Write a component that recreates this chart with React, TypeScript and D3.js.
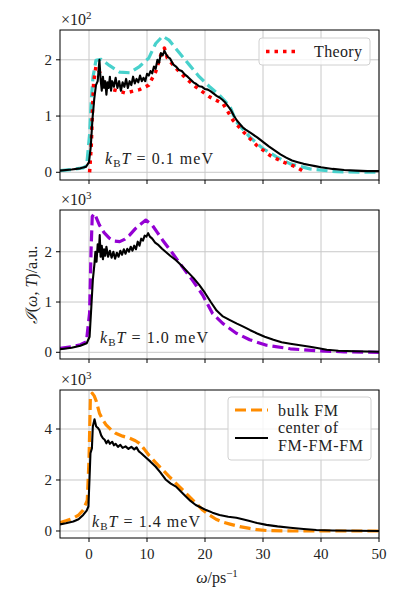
import * as d3 from 'd3'

type Pt = [number, number]

// omega (ps^-1) vs intensity
const xTicks = [0, 10, 20, 30, 40, 50]

// top panel, x10^2
const centerA: Pt[] = [[-5,0.03],[-3,0.05],[-1.5,0.07],[-0.5,0.1],[0,0.18],[0.3,0.45],[0.6,0.95],[0.9,1.3],[1.2,1.55],[1.5,1.62],[1.8,2.0],[2.0,1.65],[2.2,1.45],[2.4,1.7],[2.6,1.5],[2.8,1.62],[3.0,1.38],[3.2,1.6],[3.4,1.5],[3.6,1.7],[3.8,1.45],[4.0,1.62],[4.3,1.52],[4.6,1.68],[4.9,1.5],[5.2,1.62],[5.5,1.45],[5.8,1.6],[6.1,1.52],[6.4,1.66],[6.7,1.5],[7.0,1.62],[7.3,1.55],[7.6,1.7],[7.9,1.58],[8.2,1.66],[8.5,1.6],[8.8,1.72],[9.1,1.62],[9.4,1.68],[9.7,1.62],[10.0,1.75],[10.3,1.72],[10.6,1.8],[10.9,1.76],[11.2,1.88],[11.5,1.84],[11.8,2.0],[12.1,1.95],[12.4,2.12],[12.7,2.08],[13.0,2.16],[13.3,2.1],[13.6,2.05],[14.0,2.02],[14.5,1.92],[15.0,1.88],[15.5,1.82],[16.0,1.8],[16.5,1.74],[17.0,1.7],[17.5,1.65],[18.0,1.6],[18.5,1.57],[19.0,1.53],[19.5,1.52],[20.0,1.48],[20.5,1.47],[21.0,1.44],[21.5,1.4],[22.0,1.36],[22.5,1.33],[23.0,1.29],[23.5,1.24],[24.0,1.17],[24.5,1.1],[25.0,1.0],[25.5,0.92],[26.0,0.86],[26.5,0.8],[27.0,0.76],[28.0,0.69],[29.0,0.62],[30.0,0.54],[31.0,0.46],[32.0,0.39],[33.0,0.32],[34.0,0.26],[35.0,0.21],[36.0,0.18],[37.0,0.15],[38.0,0.13],[39.0,0.11],[40.0,0.09],[42.0,0.06],[44.0,0.04],[46.0,0.03],[48.0,0.02],[50.0,0.02]]
const bulkA: Pt[] = [[-5,0.03],[-3,0.05],[-1,0.08],[-0.4,0.12],[0.1,0.67],[0.4,1.3],[0.7,1.7],[1.2,1.99],[2.1,2.01],[3.5,1.9],[5.3,1.78],[7.0,1.77],[8.7,1.88],[10.3,2.03],[11.5,2.29],[12.7,2.42],[13.8,2.35],[15.6,2.12],[17.3,1.91],[19.0,1.7],[20.8,1.52],[22.5,1.37],[24.3,1.17],[25.4,0.9],[27.7,0.63],[30.0,0.42],[32.4,0.27],[34.7,0.15],[38.1,0.06],[42.7,0.01],[50,0.0]]
const theoryA: Pt[] = [[0.1,0.0],[0.4,0.5],[0.6,1.1],[0.8,1.6],[1.2,1.88],[1.8,1.79],[2.4,1.61],[4.1,1.47],[6.3,1.41],[8.7,1.47],[10.3,1.55],[11.5,1.79],[12.4,2.09],[13.0,2.21],[13.5,2.03],[15.0,1.85],[16.7,1.67],[18.4,1.52],[20.8,1.34],[23.1,1.22],[24.8,0.93],[26.6,0.72],[28.9,0.48],[31.2,0.3],[33.5,0.18],[35.8,0.09],[37.3,0.0]]

// middle panel, x10^3
const centerB: Pt[] = [[-5,0.06],[-3,0.09],[-1.5,0.13],[-0.4,0.18],[0.1,0.31],[0.4,0.9],[0.66,1.44],[0.95,1.77],[1.1,2.0],[1.3,1.8],[1.5,2.15],[1.7,2.0],[1.85,2.33],[2.0,1.9],[2.2,2.12],[2.4,1.85],[2.6,2.05],[2.8,1.92],[3.0,2.1],[3.3,1.9],[3.6,2.02],[3.9,1.88],[4.2,2.0],[4.5,1.86],[4.8,1.98],[5.1,1.9],[5.4,2.02],[5.7,1.94],[6.0,2.05],[6.3,1.96],[6.6,2.06],[6.9,2.0],[7.2,2.1],[7.5,2.02],[7.8,2.12],[8.1,2.05],[8.4,2.2],[8.7,2.12],[9.0,2.26],[9.3,2.22],[9.6,2.32],[9.9,2.3],[10.2,2.37],[10.5,2.3],[10.9,2.26],[11.4,2.18],[12.0,2.13],[12.6,2.06],[13.2,2.0],[14.0,1.92],[15.0,1.83],[16.0,1.72],[17.0,1.6],[18.0,1.48],[19.0,1.34],[20.0,1.18],[21.0,1.0],[22.0,0.83],[23.0,0.72],[24.3,0.64],[25.5,0.57],[26.6,0.51],[27.8,0.44],[28.9,0.38],[30.3,0.31],[31.8,0.25],[33.2,0.2],[34.7,0.17],[36.4,0.14],[38.1,0.11],[39.6,0.08],[41.0,0.05],[43,0.03],[46,0.02],[50,0.01]]
const bulkB: Pt[] = [[-5,0.08],[-3,0.11],[-1.5,0.15],[-0.45,0.21],[0.1,0.78],[0.35,2.0],[0.56,2.7],[0.95,2.76],[1.8,2.53],[2.6,2.38],[3.5,2.27],[4.4,2.21],[5.3,2.2],[6.2,2.25],[7.0,2.33],[8.0,2.46],[8.7,2.53],[9.8,2.63],[10.9,2.53],[11.8,2.38],[12.7,2.23],[14.4,1.97],[16.1,1.7],[17.8,1.44],[19.6,1.14],[21.3,0.77],[23.1,0.57],[25.4,0.38],[27.7,0.25],[30.6,0.14],[34.7,0.07],[39.2,0.03],[44,0.01],[50,0.0]]

// bottom panel, x10^3
const centerC: Pt[] = [[-5,0.26],[-4,0.3],[-2.7,0.37],[-1.8,0.46],[-1.0,0.63],[-0.4,0.8],[-0.1,0.96],[0.1,2.13],[0.25,3.05],[0.5,3.24],[0.66,4.1],[0.95,4.38],[1.24,4.1],[1.5,4.05],[1.8,3.96],[2.1,3.75],[2.4,3.64],[2.7,3.58],[3.0,3.44],[3.3,3.55],[3.6,3.42],[4.0,3.5],[4.3,3.36],[4.6,3.42],[5.0,3.3],[5.4,3.38],[5.8,3.26],[6.3,3.32],[6.8,3.22],[7.3,3.3],[7.8,3.2],[8.2,3.28],[8.6,3.12],[9.0,3.05],[9.8,2.88],[10.6,2.72],[11.5,2.52],[12.3,2.3],[13.2,2.02],[14.1,1.86],[15.0,1.74],[15.8,1.56],[16.7,1.35],[17.5,1.18],[18.4,1.02],[19.3,0.92],[20.2,0.82],[21.3,0.72],[22.5,0.63],[24.0,0.56],[25.4,0.52],[26.5,0.46],[27.7,0.39],[29.0,0.31],[30.6,0.24],[32.5,0.18],[34.7,0.13],[37.0,0.08],[39.2,0.04],[42,0.02],[46,0.01],[50,0.0]]
const bulkC: Pt[] = [[-5,0.33],[-4,0.4],[-2.7,0.5],[-1.8,0.62],[-1.0,0.82],[-0.3,1.2],[0.0,2.78],[0.25,5.33],[0.56,5.4],[0.9,5.3],[1.24,5.1],[1.8,4.62],[2.4,4.35],[2.95,4.16],[3.8,3.97],[4.6,3.83],[5.8,3.72],[7.0,3.64],[8.0,3.54],[8.7,3.44],[9.5,3.22],[10.3,2.98],[11.5,2.68],[12.7,2.4],[13.8,2.14],[15.0,1.87],[16.2,1.6],[17.3,1.35],[18.5,1.08],[19.6,0.82],[20.8,0.62],[21.9,0.46],[23.0,0.35],[24.3,0.27],[26.0,0.17],[27.7,0.1],[29.0,0.05],[30.6,0.02],[35,0.0],[50,0.0]]

const yTicksA = [0, 1, 2]
const yTicksB = [0, 1, 2]
const yTicksC = [0, 2, 4]

const FONT = '"Liberation Serif", "Times New Roman", serif'
const W = 399
const H = 598
const LEFT = 60
const RIGHT = 379

const x = d3.scaleLinear().domain([-5, 50]).range([LEFT, RIGHT])

type Series = { pts: Pt[]; color: string; width: number; dash?: string }

type PanelProps = {
  top: number
  bottom: number
  ydom: [number, number]
  yticks: number[]
  expo: string
  series: Series[]
  temp: string
  tempPos: [number, number]
  showX: boolean
}

function KbT({ x0, y0, t }: { x0: number; y0: number; t: string }) {
  return (
    <text x={x0} y={y0} fontFamily={FONT} fontSize={16} fill="#222" textLength={108} lengthAdjust="spacing">
      <tspan fontStyle="italic">k</tspan>
      <tspan fontSize={11} dy={3}>B</tspan>
      <tspan fontStyle="italic" dy={-3}>T</tspan>
      <tspan>{` = ${t} meV`}</tspan>
    </text>
  )
}

function Panel(p: PanelProps) {
  const y = d3.scaleLinear().domain(p.ydom).range([p.bottom, p.top])
  const line = d3.line<Pt>().x(d => x(d[0])).y(d => y(d[1]))
  return (
    <g>
      <defs>
        <clipPath id={`clip${p.top}`}>
          <rect x={LEFT} y={p.top} width={RIGHT - LEFT} height={p.bottom - p.top} />
        </clipPath>
      </defs>
      {xTicks.map(t => (
        <line key={'gx' + t} x1={x(t)} x2={x(t)} y1={p.top} y2={p.bottom} stroke="#c8c8c8" strokeWidth={1} />
      ))}
      {p.yticks.map(t => (
        <line key={'gy' + t} x1={LEFT} x2={RIGHT} y1={y(t)} y2={y(t)} stroke="#c8c8c8" strokeWidth={1} />
      ))}
      <g clipPath={`url(#clip${p.top})`}>
        {p.series.map((s, i) => (
          <path key={i} d={line(s.pts) || ''} fill="none" stroke={s.color} strokeWidth={s.width}
            strokeDasharray={s.dash} strokeLinejoin="round" />
        ))}
      </g>
      <rect x={LEFT} y={p.top} width={RIGHT - LEFT} height={p.bottom - p.top} fill="none" stroke="#000" strokeWidth={1} />
      {xTicks.map(t => (
        <line key={'tx' + t} x1={x(t)} x2={x(t)} y1={p.bottom} y2={p.bottom + 4} stroke="#000" strokeWidth={1} />
      ))}
      {p.yticks.map(t => (
        <g key={'ty' + t}>
          <line x1={LEFT - 4} x2={LEFT} y1={y(t)} y2={y(t)} stroke="#000" strokeWidth={1} />
          <text x={LEFT - 8} y={y(t) + 5} textAnchor="end" fontFamily={FONT} fontSize={15} fill="#222">{t}</text>
        </g>
      ))}
      {p.showX && xTicks.map(t => (
        <text key={'lx' + t} x={x(t)} y={p.bottom + 21} textAnchor="middle" fontFamily={FONT} fontSize={15} fill="#222">{t}</text>
      ))}
      <text x={LEFT + 1} y={p.top - 5} fontFamily={FONT} fontSize={16} fill="#222">
        ×10<tspan fontSize={11} dy={-6}>{p.expo}</tspan>
      </text>
      <KbT x0={p.tempPos[0]} y0={p.tempPos[1]} t={p.temp} />
    </g>
  )
}

export default function App() {
  return (
    <svg width={W} height={H} style={{ position: 'absolute', left: 0, top: 0, background: '#fff' }}>
      <Panel top={30} bottom={180} ydom={[-0.137, 2.53]} yticks={yTicksA} expo="2" temp="0.1"
        tempPos={[105, 164]} showX={false}
        series={[
          { pts: bulkA, color: '#48d1cc', width: 3.2, dash: '11 5' },
          { pts: theoryA, color: '#ff0000', width: 3.5, dash: '3.5 5' },
          { pts: centerA, color: '#000', width: 2.1 },
        ]} />
      <Panel top={210} bottom={359} ydom={[-0.133, 2.83]} yticks={yTicksB} expo="3" temp="1.0"
        tempPos={[100, 343]} showX={false}
        series={[
          { pts: bulkB, color: '#9400d3', width: 3.2, dash: '11 5' },
          { pts: centerB, color: '#000', width: 2.1 },
        ]} />
      <Panel top={390} bottom={538} ydom={[-0.275, 5.53]} yticks={yTicksC} expo="3" temp="1.4"
        tempPos={[92, 527]} showX={true}
        series={[
          { pts: bulkC, color: '#ff8c00', width: 3.2, dash: '11 5' },
          { pts: centerC, color: '#000', width: 2.1 },
        ]} />

      {/* legend top */}
      <rect x={259} y={38} width={111} height={27} rx={3} fill="#fff" fillOpacity={0.8} stroke="#d0d0d0" />
      <line x1={266} x2={300} y1={51.5} y2={51.5} stroke="#ff0000" strokeWidth={3.5} strokeDasharray="3.5 5" />
      <text x={314} y={57} fontFamily={FONT} fontSize={16} fill="#222" textLength={48} lengthAdjust="spacing">Theory</text>

      {/* legend bottom */}
      <rect x={228} y={397} width={143} height={63} rx={3} fill="#fff" fillOpacity={0.8} stroke="#d0d0d0" />
      <line x1={235} x2={268} y1={410} y2={410} stroke="#ff8c00" strokeWidth={3.2} strokeDasharray="11 5" />
      <text x={278} y={416} fontFamily={FONT} fontSize={16} fill="#222" textLength={60} lengthAdjust="spacing">bulk FM</text>
      <line x1={235} x2={268} y1={438} y2={438} stroke="#000" strokeWidth={2.1} />
      <text x={278} y={433} fontFamily={FONT} fontSize={16} fill="#222" textLength={60} lengthAdjust="spacing">center of</text>
      <text x={278} y={451} fontFamily={FONT} fontSize={16} fill="#222" textLength={85} lengthAdjust="spacing">FM-FM-FM</text>

      {/* axis labels */}
      <text x={217} y={583} textAnchor="middle" fontFamily={FONT} fontSize={16} fill="#222">
        <tspan fontStyle="italic">ω</tspan>/ps<tspan fontSize={11} dy={-6}>−1</tspan>
      </text>
      <text transform="translate(37,285) rotate(-90)" textAnchor="middle" fontFamily={FONT} fontSize={16} fill="#222">
        <tspan fontStyle="italic">ℐ</tspan>(<tspan fontStyle="italic">ω</tspan>, <tspan fontStyle="italic">T</tspan>)/a.u.
      </text>
    </svg>
  )
}
